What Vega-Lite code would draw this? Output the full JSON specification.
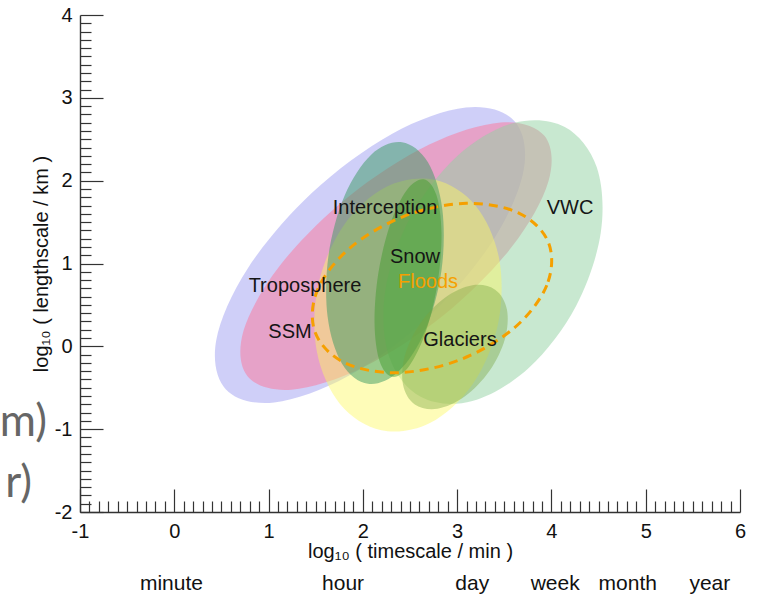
{
  "$schema": "https://vega.github.io/schema/vega-lite/v6.json",
  "width": 660,
  "height": 497,
  "autosize": {"type": "none"},
  "padding": {"left": 80, "top": 15, "right": 17, "bottom": 84},
  "background": "white",
  "config": {"view": {"stroke": null}, "font": "Liberation Sans"},
  "datasets": {
    "ellipses": [
      {"e":"Troposphere","i":0,"x":3.604,"y":2.724},{"e":"Troposphere","i":1,"x":3.706,"y":2.132},{"e":"Troposphere","i":2,"x":3.372,"y":1.263},{"e":"Troposphere","i":3,"x":2.690,"y":0.352},{"e":"Troposphere","i":4,"x":1.844,"y":-0.359},{"e":"Troposphere","i":5,"x":1.060,"y":-0.678},{"e":"Troposphere","i":6,"x":0.548,"y":-0.520},{"e":"Troposphere","i":7,"x":0.445,"y":0.073},{"e":"Troposphere","i":8,"x":0.779,"y":0.941},{"e":"Troposphere","i":9,"x":1.461,"y":1.853},{"e":"Troposphere","i":10,"x":2.307,"y":2.563},{"e":"Troposphere","i":11,"x":3.092,"y":2.882},
      {"e":"SSM","i":0,"x":3.926,"y":2.541},{"e":"SSM","i":1,"x":3.968,"y":1.990},{"e":"SSM","i":2,"x":3.578,"y":1.198},{"e":"SSM","i":3,"x":2.859,"y":0.377},{"e":"SSM","i":4,"x":2.004,"y":-0.253},{"e":"SSM","i":5,"x":1.242,"y":-0.523},{"e":"SSM","i":6,"x":0.777,"y":-0.361},{"e":"SSM","i":7,"x":0.735,"y":0.190},{"e":"SSM","i":8,"x":1.125,"y":0.982},{"e":"SSM","i":9,"x":1.844,"y":1.803},{"e":"SSM","i":10,"x":2.699,"y":2.433},{"e":"SSM","i":11,"x":3.461,"y":2.703},
      {"e":"VWC","i":0,"x":4.142,"y":2.649},{"e":"VWC","i":1,"x":4.480,"y":2.164},{"e":"VWC","i":2,"x":4.523,"y":1.372},{"e":"VWC","i":3,"x":4.260,"y":0.485},{"e":"VWC","i":4,"x":3.762,"y":-0.259},{"e":"VWC","i":5,"x":3.161,"y":-0.661},{"e":"VWC","i":6,"x":2.618,"y":-0.613},{"e":"VWC","i":7,"x":2.280,"y":-0.128},{"e":"VWC","i":8,"x":2.237,"y":0.664},{"e":"VWC","i":9,"x":2.500,"y":1.550},{"e":"VWC","i":10,"x":2.999,"y":2.295},{"e":"VWC","i":11,"x":3.600,"y":2.696},
      {"e":"Interception","i":0,"x":2.415,"y":2.464},{"e":"Interception","i":1,"x":2.690,"y":2.221},{"e":"Interception","i":2,"x":2.843,"y":1.652},{"e":"Interception","i":3,"x":2.833,"y":0.910},{"e":"Interception","i":4,"x":2.663,"y":0.193},{"e":"Interception","i":5,"x":2.378,"y":-0.305},{"e":"Interception","i":6,"x":2.055,"y":-0.453},{"e":"Interception","i":7,"x":1.779,"y":-0.210},{"e":"Interception","i":8,"x":1.626,"y":0.359},{"e":"Interception","i":9,"x":1.636,"y":1.101},{"e":"Interception","i":10,"x":1.806,"y":1.818},{"e":"Interception","i":11,"x":2.091,"y":2.317},
      {"e":"Snow","i":0,"x":2.761,"y":2.010},{"e":"Snow","i":1,"x":3.200,"y":1.692},{"e":"Snow","i":2,"x":3.446,"y":1.054},{"e":"Snow","i":3,"x":3.433,"y":0.268},{"e":"Snow","i":4,"x":3.164,"y":-0.457},{"e":"Snow","i":5,"x":2.711,"y":-0.926},{"e":"Snow","i":6,"x":2.196,"y":-1.013},{"e":"Snow","i":7,"x":1.757,"y":-0.695},{"e":"Snow","i":8,"x":1.511,"y":-0.057},{"e":"Snow","i":9,"x":1.524,"y":0.730},{"e":"Snow","i":10,"x":1.793,"y":1.454},{"e":"Snow","i":11,"x":2.246,"y":1.923},
      {"e":"Snow core","i":0,"x":2.645,"y":2.017},{"e":"Snow core","i":1,"x":2.779,"y":1.829},{"e":"Snow core","i":2,"x":2.834,"y":1.372},{"e":"Snow core","i":3,"x":2.793,"y":0.768},{"e":"Snow core","i":4,"x":2.668,"y":0.179},{"e":"Snow core","i":5,"x":2.492,"y":-0.236},{"e":"Snow core","i":6,"x":2.313,"y":-0.368},{"e":"Snow core","i":7,"x":2.178,"y":-0.180},{"e":"Snow core","i":8,"x":2.124,"y":0.277},{"e":"Snow core","i":9,"x":2.164,"y":0.881},{"e":"Snow core","i":10,"x":2.289,"y":1.470},{"e":"Snow core","i":11,"x":2.465,"y":1.885},
      {"e":"Glaciers","i":0,"x":3.403,"y":0.684},{"e":"Glaciers","i":1,"x":3.528,"y":0.446},{"e":"Glaciers","i":2,"x":3.506,"y":0.086},{"e":"Glaciers","i":3,"x":3.342,"y":-0.299},{"e":"Glaciers","i":4,"x":3.080,"y":-0.607},{"e":"Glaciers","i":5,"x":2.791,"y":-0.754},{"e":"Glaciers","i":6,"x":2.551,"y":-0.701},{"e":"Glaciers","i":7,"x":2.426,"y":-0.463},{"e":"Glaciers","i":8,"x":2.448,"y":-0.103},{"e":"Glaciers","i":9,"x":2.612,"y":0.282},{"e":"Glaciers","i":10,"x":2.874,"y":0.590},{"e":"Glaciers","i":11,"x":3.163,"y":0.737},
      {"e":"Floods","i":0,"x":3.971,"y":1.245},{"e":"Floods","i":1,"x":3.951,"y":0.738},{"e":"Floods","i":2,"x":3.606,"y":0.223},{"e":"Floods","i":3,"x":3.026,"y":-0.164},{"e":"Floods","i":4,"x":2.368,"y":-0.318},{"e":"Floods","i":5,"x":1.808,"y":-0.199},{"e":"Floods","i":6,"x":1.496,"y":0.163},{"e":"Floods","i":7,"x":1.515,"y":0.670},{"e":"Floods","i":8,"x":1.861,"y":1.185},{"e":"Floods","i":9,"x":2.441,"y":1.572},{"e":"Floods","i":10,"x":3.099,"y":1.726},{"e":"Floods","i":11,"x":3.659,"y":1.606}
    ],
    "labels": [
      {"t":"Interception","x":2.235,"y":1.67,"k":"dark"},
      {"t":"VWC","x":4.197,"y":1.67,"k":"dark"},
      {"t":"Snow","x":2.553,"y":1.078,"k":"dark"},
      {"t":"Floods","x":2.691,"y":0.776,"k":"orange"},
      {"t":"Troposphere","x":1.386,"y":0.728,"k":"dark"},
      {"t":"SSM","x":1.227,"y":0.173,"k":"dark"},
      {"t":"Glaciers","x":3.03,"y":0.076,"k":"dark"}
    ],
    "timescales": [
      {"t":"minute","x":-0.03,"y":-2.87},
      {"t":"hour","x":1.79,"y":-2.87},
      {"t":"day","x":3.16,"y":-2.87},
      {"t":"week","x":4.04,"y":-2.87},
      {"t":"month","x":4.81,"y":-2.87},
      {"t":"year","x":5.68,"y":-2.87}
    ],
    "cut": [
      {"t":"m)","x":-1.35,"y":-0.926},
      {"t":"r)","x":-1.509,"y":-1.662}
    ]
  },
  "resolve": {"axis": {"x": "independent", "y": "independent"}},
  "layer": [
    {
      "data": {"name": "ellipses"},
      "transform": [{"filter": "datum.e === 'Troposphere'"}],
      "mark": {"type": "line", "interpolate": "cardinal-closed", "fill": "#a8a8f2", "fillOpacity": 0.55, "strokeWidth": 0, "strokeOpacity": 0, "clip": false},
      "encoding": {
        "x": {"field": "x", "type": "quantitative", "scale": {"domain": [-1, 6], "nice": false, "zero": false},
          "axis": {"orient": "bottom", "values": [-1,0,1,2,3,4,5,6], "labelExpr": "'' + datum.value", "tickSize": -23, "tickColor": "#333", "tickWidth": 1.2, "domainColor": "#333", "domainWidth": 1.4, "labelFontSize": 20, "labelColor": "#111", "labelPadding": 32, "labelFlush": false, "labelOverlap": false, "grid": false,
            "title": "log₁₀ ( timescale / min )", "titleFontSize": 20, "titleFontWeight": "normal", "titleColor": "#111", "titlePadding": 0}},
        "y": {"field": "y", "type": "quantitative", "scale": {"domain": [-2, 4], "nice": false, "zero": false},
          "axis": {"orient": "left", "values": [-2,-1,0,1,2,3,4], "labelExpr": "'' + datum.value", "tickSize": -23, "tickColor": "#333", "tickWidth": 1.2, "domainColor": "#333", "domainWidth": 1.4, "labelFontSize": 20, "labelColor": "#111", "labelPadding": 31, "labelFlush": false, "labelOverlap": false, "grid": false,
            "title": "log₁₀ ( lengthscale / km )", "titleFontSize": 20, "titleFontWeight": "normal", "titleColor": "#111", "titlePadding": 3}},
        "order": {"field": "i", "type": "quantitative"}
      }
    },
    {
      "data": {"name": "ellipses"},
      "transform": [{"filter": "datum.e === 'SSM'"}],
      "mark": {"type": "line", "interpolate": "cardinal-closed", "fill": "#f584a8", "fillOpacity": 0.6, "strokeWidth": 0, "strokeOpacity": 0, "clip": false},
      "encoding": {
        "x": {"field": "x", "type": "quantitative", "scale": {"domain": [-1, 6], "nice": false, "zero": false},
          "axis": {"orient": "bottom", "values": [-0.9,-0.8,-0.7,-0.6,-0.5,-0.4,-0.3,-0.2,-0.1,0.1,0.2,0.3,0.4,0.5,0.6,0.7,0.8,0.9,1.1,1.2,1.3,1.4,1.5,1.6,1.7,1.8,1.9,2.1,2.2,2.3,2.4,2.5,2.6,2.7,2.8,2.9,3.1,3.2,3.3,3.4,3.5,3.6,3.7,3.8,3.9,4.1,4.2,4.3,4.4,4.5,4.6,4.7,4.8,4.9,5.1,5.2,5.3,5.4,5.5,5.6,5.7,5.8,5.9], "tickSize": -11, "tickColor": "#333", "tickWidth": 1.2, "domain": false, "labels": false, "grid": false, "title": null}},
        "y": {"field": "y", "type": "quantitative", "scale": {"domain": [-2, 4], "nice": false, "zero": false},
          "axis": {"orient": "left", "values": [-1.9,-1.8,-1.7,-1.6,-1.5,-1.4,-1.3,-1.2,-1.1,-0.9,-0.8,-0.7,-0.6,-0.5,-0.4,-0.3,-0.2,-0.1,0.1,0.2,0.3,0.4,0.5,0.6,0.7,0.8,0.9,1.1,1.2,1.3,1.4,1.5,1.6,1.7,1.8,1.9,2.1,2.2,2.3,2.4,2.5,2.6,2.7,2.8,2.9,3.1,3.2,3.3,3.4,3.5,3.6,3.7,3.8,3.9], "tickSize": -11, "tickColor": "#333", "tickWidth": 1.2, "domain": false, "labels": false, "grid": false, "title": null}},
        "order": {"field": "i", "type": "quantitative"}
      }
    },
    {
      "data": {"name": "ellipses"},
      "transform": [{"filter": "datum.e === 'VWC'"}],
      "mark": {"type": "line", "interpolate": "cardinal-closed", "fill": "#91d1a1", "fillOpacity": 0.5, "strokeWidth": 0, "strokeOpacity": 0, "clip": false},
      "encoding": {
        "x": {"field": "x", "type": "quantitative", "scale": {"domain": [-1, 6], "nice": false, "zero": false}, "axis": null},
        "y": {"field": "y", "type": "quantitative", "scale": {"domain": [-2, 4], "nice": false, "zero": false}, "axis": null},
        "order": {"field": "i", "type": "quantitative"}
      }
    },
    {
      "data": {"name": "ellipses"},
      "transform": [{"filter": "datum.e === 'Snow'"}],
      "mark": {"type": "line", "interpolate": "cardinal-closed", "fill": "#fdf961", "fillOpacity": 0.45, "strokeWidth": 0, "strokeOpacity": 0, "clip": false},
      "encoding": {
        "x": {"field": "x", "type": "quantitative", "scale": {"domain": [-1, 6], "nice": false, "zero": false}, "axis": null},
        "y": {"field": "y", "type": "quantitative", "scale": {"domain": [-2, 4], "nice": false, "zero": false}, "axis": null},
        "order": {"field": "i", "type": "quantitative"}
      }
    },
    {
      "data": {"name": "ellipses"},
      "transform": [{"filter": "datum.e === 'Interception'"}],
      "mark": {"type": "line", "interpolate": "cardinal-closed", "fill": "#3a9a62", "fillOpacity": 0.5, "strokeWidth": 0, "strokeOpacity": 0, "clip": false},
      "encoding": {
        "x": {"field": "x", "type": "quantitative", "scale": {"domain": [-1, 6], "nice": false, "zero": false}, "axis": null},
        "y": {"field": "y", "type": "quantitative", "scale": {"domain": [-2, 4], "nice": false, "zero": false}, "axis": null},
        "order": {"field": "i", "type": "quantitative"}
      }
    },
    {
      "data": {"name": "ellipses"},
      "transform": [{"filter": "datum.e === 'Snow core'"}],
      "mark": {"type": "line", "interpolate": "cardinal-closed", "fill": "#3c9a28", "fillOpacity": 0.45, "strokeWidth": 0, "strokeOpacity": 0, "clip": false},
      "encoding": {
        "x": {"field": "x", "type": "quantitative", "scale": {"domain": [-1, 6], "nice": false, "zero": false}, "axis": null},
        "y": {"field": "y", "type": "quantitative", "scale": {"domain": [-2, 4], "nice": false, "zero": false}, "axis": null},
        "order": {"field": "i", "type": "quantitative"}
      }
    },
    {
      "data": {"name": "ellipses"},
      "transform": [{"filter": "datum.e === 'Glaciers'"}],
      "mark": {"type": "line", "interpolate": "cardinal-closed", "fill": "#78a53f", "fillOpacity": 0.4, "strokeWidth": 0, "strokeOpacity": 0, "clip": false},
      "encoding": {
        "x": {"field": "x", "type": "quantitative", "scale": {"domain": [-1, 6], "nice": false, "zero": false}, "axis": null},
        "y": {"field": "y", "type": "quantitative", "scale": {"domain": [-2, 4], "nice": false, "zero": false}, "axis": null},
        "order": {"field": "i", "type": "quantitative"}
      }
    },
    {
      "data": {"name": "ellipses"},
      "transform": [{"filter": "datum.e === 'Floods'"}],
      "mark": {"type": "line", "interpolate": "cardinal-closed", "stroke": "#f5a000", "strokeWidth": 3, "strokeDash": [9, 6], "clip": false},
      "encoding": {
        "x": {"field": "x", "type": "quantitative", "scale": {"domain": [-1, 6], "nice": false, "zero": false}, "axis": null},
        "y": {"field": "y", "type": "quantitative", "scale": {"domain": [-2, 4], "nice": false, "zero": false}, "axis": null},
        "order": {"field": "i", "type": "quantitative"}
      }
    },
    {
      "data": {"name": "labels"},
      "mark": {"type": "text", "fontSize": 20, "font": "Liberation Sans", "align": "center", "baseline": "middle"},
      "encoding": {
        "x": {"field": "x", "type": "quantitative", "scale": {"domain": [-1, 6], "nice": false, "zero": false}, "axis": null},
        "y": {"field": "y", "type": "quantitative", "scale": {"domain": [-2, 4], "nice": false, "zero": false}, "axis": null},
        "text": {"field": "t"},
        "color": {"field": "k", "type": "nominal", "scale": {"domain": ["dark", "orange"], "range": ["#151515", "#f5a000"]}, "legend": null}
      }
    },
    {
      "data": {"name": "timescales"},
      "mark": {"type": "text", "fontSize": 21, "font": "Liberation Sans", "align": "center", "baseline": "middle", "color": "#111"},
      "encoding": {
        "x": {"field": "x", "type": "quantitative", "scale": {"domain": [-1, 6], "nice": false, "zero": false}, "axis": null},
        "y": {"field": "y", "type": "quantitative", "scale": {"domain": [-2, 4], "nice": false, "zero": false}, "axis": null},
        "text": {"field": "t"}
      }
    },
    {
      "data": {"name": "cut"},
      "mark": {"type": "text", "fontSize": 44, "font": "Lato", "align": "right", "baseline": "middle", "color": "#666666"},
      "encoding": {
        "x": {"field": "x", "type": "quantitative", "scale": {"domain": [-1, 6], "nice": false, "zero": false}, "axis": null},
        "y": {"field": "y", "type": "quantitative", "scale": {"domain": [-2, 4], "nice": false, "zero": false}, "axis": null},
        "text": {"field": "t"}
      }
    }
  ]
}
